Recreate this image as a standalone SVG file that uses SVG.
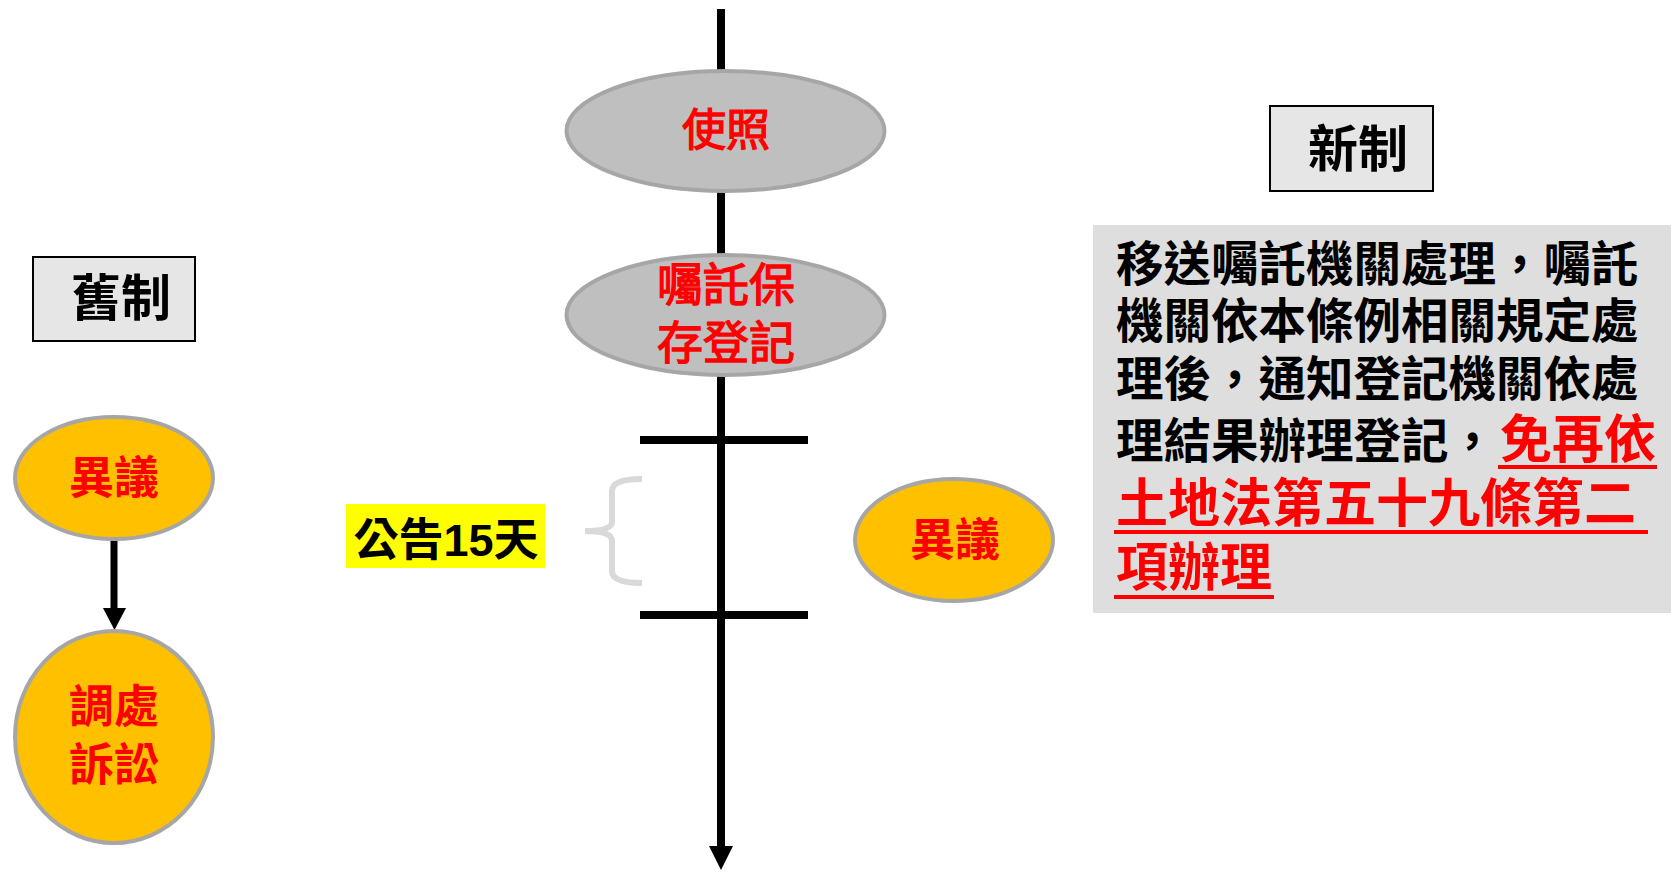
<svg xmlns="http://www.w3.org/2000/svg" width="1671" height="872" viewBox="0 0 1671 872">
<style>
.t{font-family:"Liberation Sans","Noto Sans CJK TC",sans-serif}
.red{fill:#FF0000}
.blk{fill:#000000}
.b{font-weight:bold}
.m{font-weight:normal;stroke:#FF0000;stroke-width:1.3}
.gray{fill:#BFBFBF;stroke:#A6A6A6;stroke-width:4}
.orange{fill:#FFC000;stroke:#A6A6A6;stroke-width:4}
.lbl{fill:#E7E6E6;stroke:#000;stroke-width:2}
.ul{stroke:#FF0000;stroke-width:4}
</style>
<rect width="1671" height="872" fill="#fff"/>
<g id="connectors">
<line x1="721" y1="9" x2="721" y2="846" stroke="#000" stroke-width="8"/>
<path d="M709,846 L733,846 L721,870 Z" fill="#000"/>
<line x1="640" y1="440" x2="808" y2="440" stroke="#000" stroke-width="8"/>
<line x1="640" y1="615" x2="808" y2="615" stroke="#000" stroke-width="8"/>
<path d="M642,479 Q612,479 612,491 L612,522 Q612,531 585,531 Q612,531 612,541 L612,571 Q612,583 642,583" fill="none" stroke="#D9D9D9" stroke-width="6"/>
<line x1="114" y1="539" x2="114" y2="608" stroke="#000" stroke-width="7"/>
<path d="M103,608 L126,608 L114.5,630 Z" fill="#000"/>
</g>
<g id="node-shizhao">
<ellipse class="gray" cx="725.5" cy="131" rx="159" ry="60"/>
<text class="t red m" x="726" y="146" font-size="44" text-anchor="middle">使照</text>
</g>
<g id="node-zhutuo">
<ellipse class="gray" cx="725.5" cy="315" rx="159" ry="60"/>
<text class="t red m" x="726" y="301" font-size="46" text-anchor="middle">囑託保</text>
<text class="t red m" x="726" y="359" font-size="46" text-anchor="middle">存登記</text>
</g>
<g id="node-gonggao">
<rect x="346" y="504" width="199" height="64" fill="#FFFF00"/>
<text class="t blk b" x="446" y="556" font-size="45" text-anchor="middle">公告15天</text>
</g>
<g id="node-yiyi-new">
<ellipse class="orange" cx="954" cy="540" rx="99" ry="61"/>
<text class="t red b" x="955" y="556" font-size="45" text-anchor="middle">異議</text>
</g>
<g id="node-xinzhi">
<rect class="lbl" x="1270" y="106" width="163" height="85"/>
<text class="t blk b" x="1358" y="167" font-size="50" text-anchor="middle">新制</text>
</g>
<g id="node-desc">
<rect x="1093" y="225" width="578" height="388" fill="#DEDEDE"/>
<text class="t blk b" font-size="47.5">
<tspan x="1116" y="281">移送囑託機關處理，囑託</tspan>
<tspan x="1116" y="338">機關依本條例相關規定處</tspan>
<tspan x="1116" y="396">理後，通知登記機關依處</tspan>
<tspan x="1116" y="458">理結果辦理登記，</tspan>
</text>
<text class="t red b" font-size="52">
<tspan x="1500" y="458">免再依</tspan>
<tspan x="1116" y="522">土地法第五十九條第二</tspan>
<tspan x="1116" y="586">項辦理</tspan>
</text>
<line class="ul" x1="1498" y1="467" x2="1657" y2="467"/>
<line class="ul" x1="1114" y1="532" x2="1648" y2="532"/>
<line class="ul" x1="1114" y1="597" x2="1274" y2="597"/>
</g>
<g id="node-jiuzhi">
<rect class="lbl" x="33" y="257" width="162" height="84"/>
<text class="t blk b" x="121" y="316" font-size="50" text-anchor="middle">舊制</text>
</g>
<g id="node-yiyi-old">
<ellipse class="orange" cx="114" cy="478" rx="99" ry="61"/>
<text class="t red b" x="114" y="494" font-size="45" text-anchor="middle">異議</text>
</g>
<g id="node-tiaochu">
<ellipse class="orange" cx="114" cy="737" rx="99" ry="106"/>
<text class="t red b" x="114" y="723" font-size="45" text-anchor="middle">調處</text>
<text class="t red b" x="114" y="781" font-size="45" text-anchor="middle">訴訟</text>
</g>
</svg>
